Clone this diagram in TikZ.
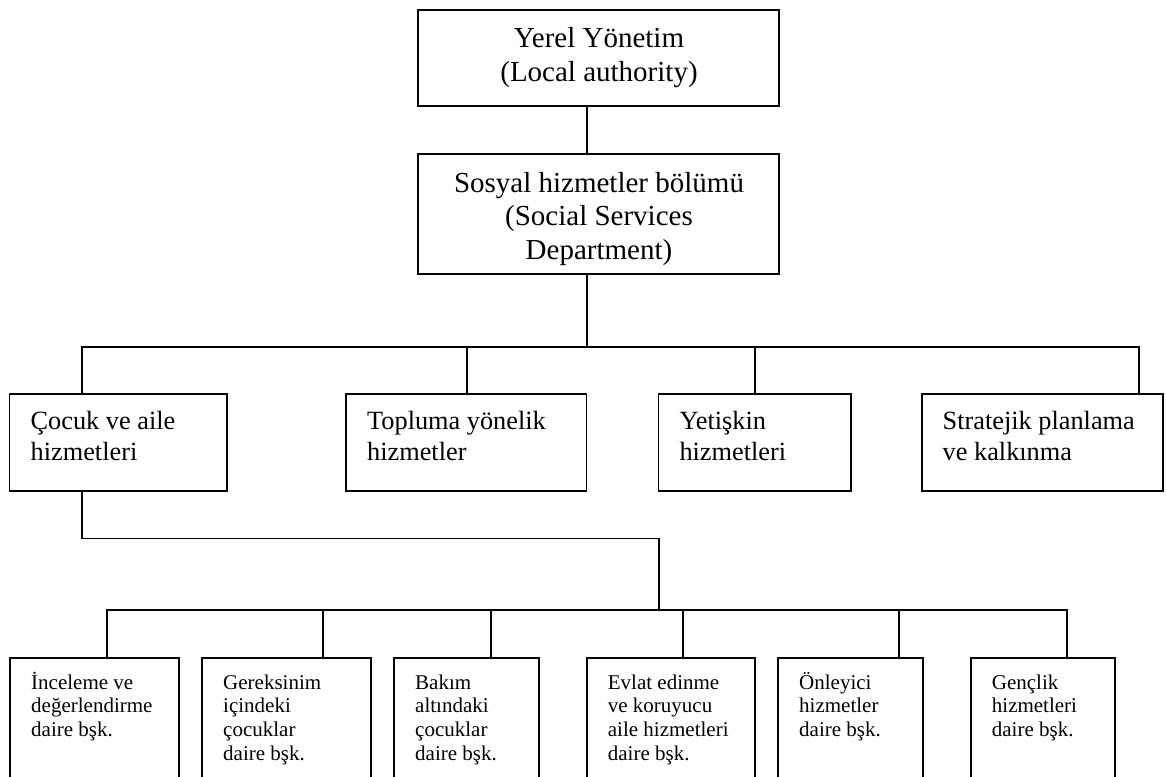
\documentclass[tikz,border=0pt]{standalone}
\usepackage{fontspec}
\setmainfont{Liberation Serif}
% strut that fixes the height of a first line to one em
\newcommand\bigln{\rule{0pt}{1em}}
\begin{document}
\begin{tikzpicture}[x=1pt,y=-1pt,
  box/.style={draw, line width=1.6pt, rectangle, inner sep=0pt, outer sep=0pt, anchor=north west},
  wire/.style={line width=1.6pt},
  headtxt/.style={inner sep=0pt, anchor=north, align=center, font=\fontsize{29}{33.3}\selectfont},
  midtxt/.style={inner sep=0pt, anchor=north west, align=left, font=\fontsize{26.3}{30.8}\selectfont},
  lowtxt/.style={inner sep=0pt, anchor=north west, align=left, font=\fontsize{21}{23.7}\selectfont}
]
\useasboundingbox (0,0) rectangle (1166,776);
\fill[white] (0,0) rectangle (1166,776);
\clip (0,0) rectangle (1166,776);

% top levels
\node[box, minimum width=361pt, minimum height=96pt] (la) at (418,10) {};
\node[headtxt] (latxt) at (599,18.7) {\bigln Yerel Yönetim\\(Local authority)};
\node[box, minimum width=361pt, minimum height=120pt] (dept) at (418,154) {};
\node[headtxt] (depttxt) at (599,163.3) {\bigln Sosyal hizmetler bölümü\\(Social Services\\Department)};

% second level
\node[box, minimum width=217.5pt, minimum height=96.7pt] (c1) at (9.5,394) {};
\node[box, minimum width=240.5pt, minimum height=96.7pt] (c2) at (346,394) {};
\node[box, minimum width=192.4pt, minimum height=96.7pt] (c3) at (658.3,394) {};
\node[box, minimum width=240.7pt, minimum height=96.7pt] (c4) at (922,394) {};
\node[midtxt] (c1txt) at (30.5,402.7) {\bigln Çocuk ve aile\\hizmetleri};
\node[midtxt] (c2txt) at (367,402.7) {\bigln Topluma yönelik\\hizmetler};
\node[midtxt] (c3txt) at (679.3,402.7) {\bigln Yetişkin\\hizmetleri};
\node[midtxt] (c4txt) at (942.5,402.7) {\bigln Stratejik planlama\\ve kalkınma};

% third level
\node[box, minimum width=169pt, minimum height=140pt] (d1) at (10,657.7) {};
\node[box, minimum width=168.7pt, minimum height=140pt] (d2) at (202,657.7) {};
\node[box, minimum width=144.7pt, minimum height=140pt] (d3) at (394,657.7) {};
\node[box, minimum width=168.3pt, minimum height=140pt] (d4) at (586.7,657.7) {};
\node[box, minimum width=145pt, minimum height=140pt] (d5) at (778,657.7) {};
\node[box, minimum width=144.3pt, minimum height=140pt] (d6) at (970.7,657.7) {};
\node[lowtxt] (d1txt) at (31,668) {\bigln İnceleme ve\\değerlendirme\\daire bşk.};
\node[lowtxt] (d2txt) at (223,668) {\bigln Gereksinim\\içindeki\\çocuklar\\daire bşk.};
\node[lowtxt] (d3txt) at (415,668) {\bigln Bakım\\altındaki\\çocuklar\\daire bşk.};
\node[lowtxt] (d4txt) at (607.7,668) {\bigln Evlat edinme\\ve koruyucu\\aile hizmetleri\\daire bşk.};
\node[lowtxt] (d5txt) at (799,668) {\bigln Önleyici\\hizmetler\\daire bşk.};
\node[lowtxt] (d6txt) at (991.7,668) {\bigln Gençlik\\hizmetleri\\daire bşk.};

% connector guide positions
\coordinate (spine) at (586.7,0);
\coordinate (bus) at (0,346.7);
\coordinate (k1) at (82,0);
\coordinate (k2) at (466.7,0);
\coordinate (k3) at (755,0);
\coordinate (k4) at (1139,0);
\coordinate (elbow) at (0,538.3);
\coordinate (turn) at (658.7,0);
\coordinate (bus2) at (0,610);
\coordinate (g1) at (106.7,0);
\coordinate (g2) at (322.7,0);
\coordinate (g3) at (490.7,0);
\coordinate (g4) at (682.7,0);
\coordinate (g5) at (898.7,0);
\coordinate (g6) at (1066.7,0);

% connectors
\draw[wire] (la.south -| spine) -- (dept.north -| spine);
\draw[wire] (dept.south -| spine) -- (bus -| spine);
\draw[wire] (c1.north -| k1) -- (bus -| k1) -- (bus -| k4) -- (c4.north -| k4);
\draw[wire] (c2.north -| k2) -- (bus -| k2);
\draw[wire] (c3.north -| k3) -- (bus -| k3);
\draw[wire] (c1.south -| k1) -- (elbow -| k1) -- (elbow -| turn) -- (bus2 -| turn);
\draw[wire] (d1.north -| g1) -- (bus2 -| g1) -- (bus2 -| g6) -- (d6.north -| g6);
\draw[wire] (d2.north -| g2) -- (bus2 -| g2);
\draw[wire] (d3.north -| g3) -- (bus2 -| g3);
\draw[wire] (d4.north -| g4) -- (bus2 -| g4);
\draw[wire] (d5.north -| g5) -- (bus2 -| g5);
\end{tikzpicture}
\end{document}
